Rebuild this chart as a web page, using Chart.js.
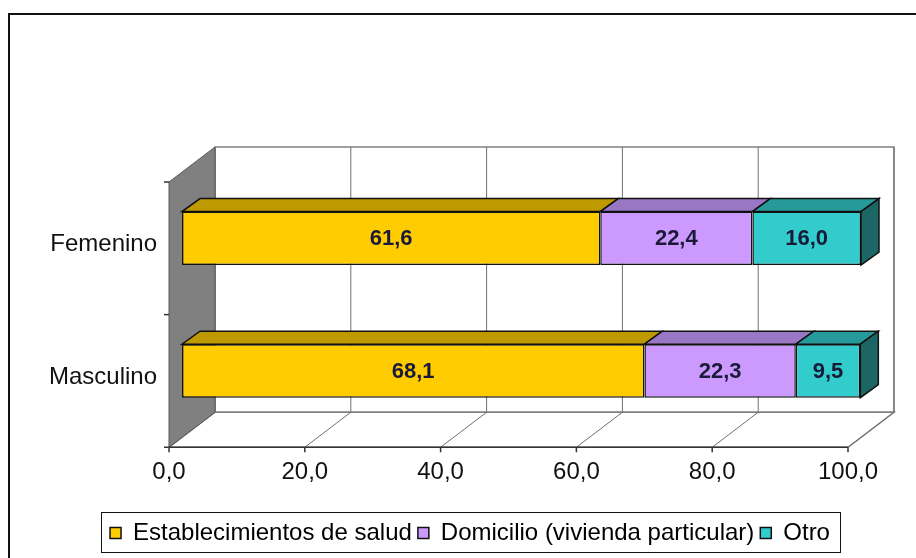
<!DOCTYPE html>
<html>
<head>
<meta charset="utf-8">
<script src="https://cdn.jsdelivr.net/npm/chart.js@4.4.0/dist/chart.umd.min.js"></script>
<style>
  html, body { margin: 0; padding: 0; background: #fff; }
  #wrap { width: 916px; height: 558px; position: relative; }
</style>
</head>
<body>
<div id="wrap"><canvas id="grafico" width="916" height="558"></canvas></div>
<script>
// datos
const categorias = ['Femenino', 'Masculino'];
const establecimientos = [61.6, 68.1];
const domicilio = [22.4, 22.3];
const otro = [16.0, 9.5];
const ticksX = [0, 20, 40, 60, 80, 100];
const nombres = ['Establecimientos de salud', 'Domicilio (vivienda particular)', 'Otro'];

// colores: frente, cara superior, costado
const colFrente = ['#FFCC00', '#CC99FF', '#33CCCC'];
const colArriba = ['#BF9900', '#9A77C4', '#269A9A'];
const colCostado = '#1C6666';

const FUENTE = "'Liberation Sans', Arial, sans-serif";
Chart.defaults.font.family = FUENTE;
Chart.defaults.color = '#111';

// desplazamientos de profundidad respecto al plano de las barras
const FR = { dx: -13, dy: 10 };   // plano frontal
const FO = { dx: 33, dy: -25 };   // pared del fondo
const BAR = { dx: 18, dy: -13 };  // fondo de la barra

function linea(ctx, x1, y1, x2, y2) {
    ctx.beginPath();
    ctx.moveTo(x1, y1);
    ctx.lineTo(x2, y2);
    ctx.stroke();
}

function poligono(ctx, pts, relleno, borde, ancho) {
    ctx.beginPath();
    ctx.moveTo(pts[0][0], pts[0][1]);
    for (let i = 1; i < pts.length; i++) ctx.lineTo(pts[i][0], pts[i][1]);
    ctx.closePath();
    if (relleno) { ctx.fillStyle = relleno; ctx.fill(); }
    if (borde) { ctx.strokeStyle = borde; ctx.lineWidth = ancho || 1; ctx.stroke(); }
}

const paredes = {
    id: 'paredes',
    afterLayout(chart) {
        // la leyenda del original esta algo corrida a la derecha
        chart.legend.left += 17;
        chart.legend.right += 17;
    },
    beforeDraw(chart) {
        const ctx = chart.ctx;
        ctx.save();
        // marco exterior (solo arriba e izquierda visibles)
        ctx.strokeStyle = '#111';
        ctx.lineWidth = 2;
        linea(ctx, 9, 14, 916, 14);
        linea(ctx, 9, 13, 9, 558);
        ctx.restore();
    },
    beforeDatasetsDraw(chart) {
        const ctx = chart.ctx;
        const a = chart.chartArea;
        const xs = chart.scales.x;
        const x0 = xs.getPixelForValue(0);
        const x100 = xs.getPixelForValue(100);
        ctx.save();
        // pared del fondo
        poligono(ctx, [
            [x0 + FO.dx, a.top + FO.dy], [x100 + FO.dx, a.top + FO.dy],
            [x100 + FO.dx, a.bottom + FO.dy], [x0 + FO.dx, a.bottom + FO.dy]
        ], '#ffffff', '#808080', 1.5);
        // piso
        poligono(ctx, [
            [x0 + FR.dx, a.bottom + FR.dy], [x100 + FR.dx, a.bottom + FR.dy],
            [x100 + FO.dx, a.bottom + FO.dy], [x0 + FO.dx, a.bottom + FO.dy]
        ], '#ffffff', '#808080', 1.5);
        // lineas de division
        ctx.strokeStyle = '#707070';
        ctx.lineWidth = 1;
        ticksX.forEach(v => {
            const px = xs.getPixelForValue(v);
            linea(ctx, px + FO.dx, a.top + FO.dy, px + FO.dx, a.bottom + FO.dy);
            linea(ctx, px + FR.dx, a.bottom + FR.dy, px + FO.dx, a.bottom + FO.dy);
        });
        // pared izquierda
        poligono(ctx, [
            [x0 + FR.dx, a.top + FR.dy], [x0 + FO.dx, a.top + FO.dy],
            [x0 + FO.dx, a.bottom + FO.dy], [x0 + FR.dx, a.bottom + FR.dy]
        ], '#808080', '#5a5a5a', 1);
        // eje x frontal
        ctx.strokeStyle = '#333';
        ctx.lineWidth = 1.5;
        linea(ctx, x0 + FR.dx - 5, a.bottom + FR.dy, x100 + FR.dx, a.bottom + FR.dy);
        ticksX.forEach(v => {
            const px = xs.getPixelForValue(v) + FR.dx;
            linea(ctx, px, a.bottom + FR.dy, px, a.bottom + FR.dy + 5);
        });
        // marcas del eje y
        const mid = (a.top + a.bottom) / 2;
        [a.top, mid].forEach(y => {
            linea(ctx, x0 + FR.dx - 5, y + FR.dy, x0 + FR.dx, y + FR.dy);
        });
        ctx.restore();
    },
    afterDatasetsDraw(chart) {
        const ctx = chart.ctx;
        ctx.save();
        const n = chart.data.datasets.length;
        chart.data.datasets.forEach((ds, i) => {
            const meta = chart.getDatasetMeta(i);
            meta.data.forEach((el, j) => {
                const izq = Math.min(el.base, el.x);
                const der = Math.max(el.base, el.x);
                const arr = el.y - el.height / 2;
                const aba = el.y + el.height / 2;
                // cara superior
                poligono(ctx, [
                    [izq, arr], [der, arr], [der + BAR.dx, arr + BAR.dy], [izq + BAR.dx, arr + BAR.dy]
                ], colArriba[i], '#111', 1.5);
                // costado derecho
                if (i === n - 1) {
                    poligono(ctx, [
                        [der, arr], [der + BAR.dx, arr + BAR.dy],
                        [der + BAR.dx, aba + BAR.dy], [der, aba]
                    ], colCostado, '#111', 1.5);
                }
                // etiqueta del valor
                ctx.fillStyle = '#1a1a38';
                ctx.font = 'bold 22px ' + FUENTE;
                ctx.textAlign = 'center';
                ctx.textBaseline = 'middle';
                ctx.fillText(ds.data[j].toFixed(1).replace('.', ','), (izq + der) / 2, el.y + 1);
            });
        });
        ctx.restore();
    },
    afterDraw(chart) {
        // marco de la leyenda
        const lg = chart.legend;
        const hb = lg.legendHitBoxes;
        if (!hb || !hb.length) return;
        const ctx = chart.ctx;
        const primero = hb[0];
        const ultimo = hb[hb.length - 1];
        ctx.save();
        ctx.strokeStyle = '#111';
        ctx.lineWidth = 1;
        const x1 = Math.round(primero.left - 9) + 0.5;
        const x2 = Math.round(ultimo.left + ultimo.width + 10) + 0.5;
        const y1 = Math.round(primero.top - 9) + 0.5;
        const y2 = Math.round(primero.top + primero.height + 7) + 0.5;
        ctx.strokeRect(x1, y1, x2 - x1, y2 - y1);
        ctx.restore();
    }
};

const ctx = document.getElementById('grafico').getContext('2d');
new Chart(ctx, {
    type: 'bar',
    data: {
        labels: categorias,
        datasets: [
            { label: nombres[0], data: establecimientos, backgroundColor: colFrente[0] },
            { label: nombres[1], data: domicilio, backgroundColor: colFrente[1] },
            { label: nombres[2], data: otro, backgroundColor: colFrente[2] }
        ].map(d => Object.assign(d, {
            borderColor: '#111',
            borderWidth: 1.5,
            borderSkipped: false,
            categoryPercentage: 1,
            barPercentage: 0.404
        }))
    },
    options: {
        indexAxis: 'y',
        responsive: false,
        animation: false,
        layout: { padding: { top: 172, bottom: 3, left: 45, right: 55 } },
        scales: {
            x: {
                stacked: true,
                min: 0,
                max: 100,
                afterBuildTicks: s => { s.ticks = ticksX.map(v => ({ value: v })); },
                afterFit: s => { s.height = 77.75; },
                grid: { display: false, drawTicks: false },
                border: { display: false },
                ticks: {
                    font: { size: 24 },
                    color: '#111',
                    padding: 21,
                    labelOffset: FR.dx,
                    maxRotation: 0,
                    callback: v => Number(v).toFixed(1).replace('.', ',')
                }
            },
            y: {
                stacked: true,
                afterFit: s => { s.width = 137; },
                grid: { display: false, drawTicks: false },
                border: { display: false },
                ticks: {
                    font: { size: 24 },
                    color: '#111',
                    padding: 25,
                    labelOffset: 6
                }
            }
        },
        plugins: {
            title: { display: false },
            tooltip: { enabled: false },
            legend: {
                position: 'bottom',
                labels: {
                    font: { size: 24 },
                    color: '#111',
                    boxWidth: 11,
                    boxHeight: 11,
                    padding: 6,
                    generateLabels: chart => chart.data.datasets.map((d, i) => ({
                        text: d.label,
                        fillStyle: colFrente[i],
                        strokeStyle: '#111',
                        lineWidth: 1.5,
                        datasetIndex: i
                    }))
                }
            }
        }
    },
    plugins: [paredes]
});
</script>
</body>
</html>
